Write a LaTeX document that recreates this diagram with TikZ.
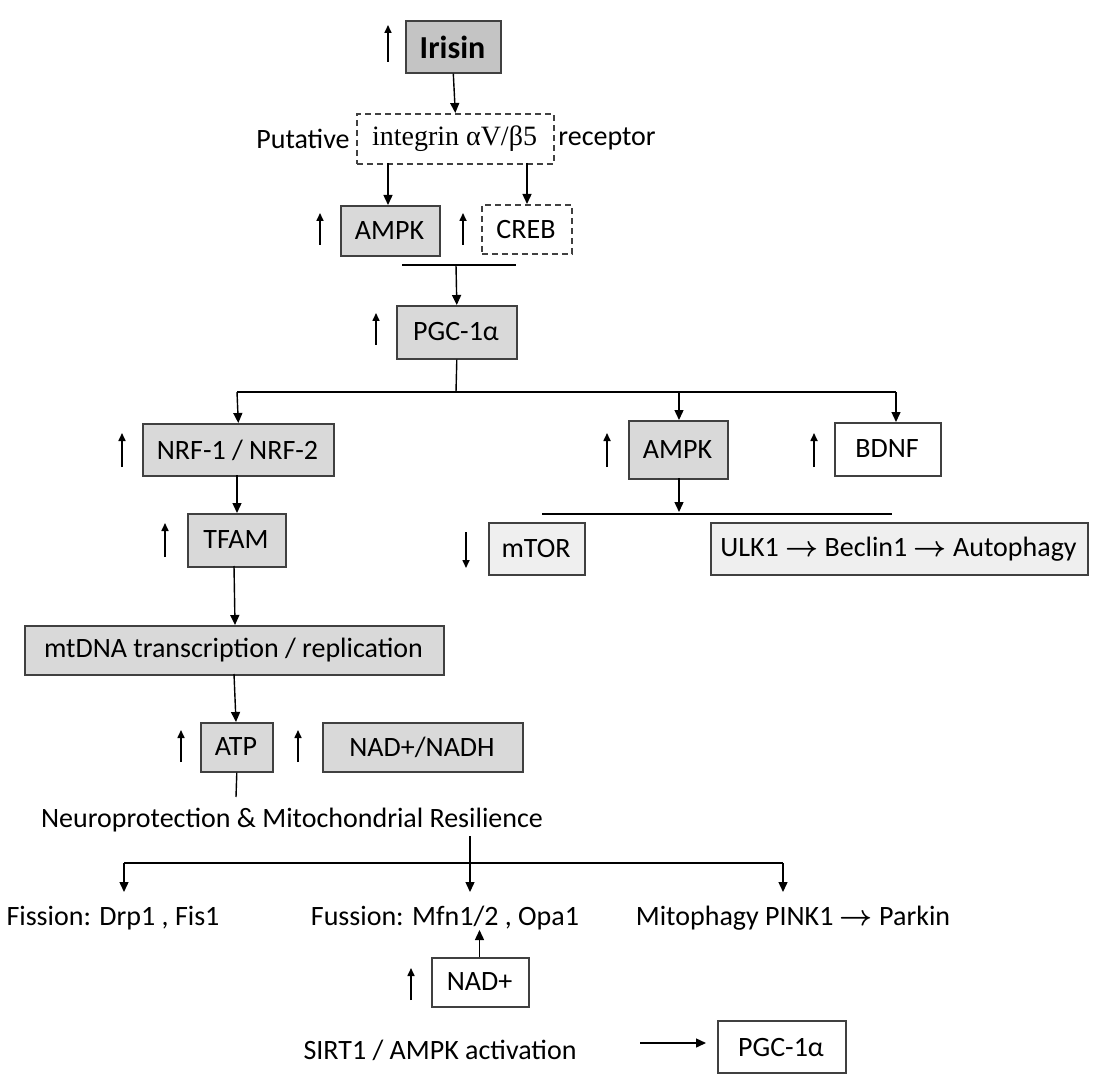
\documentclass[tikz,border=0pt]{standalone}
\usepackage{amsmath}
\usepackage{fontspec}
\setmainfont{Carlito}
\newfontfamily\serifx{Liberation Serif}
\usetikzlibrary{arrows.meta}
\definecolor{bd}{HTML}{404040}
\definecolor{g1}{HTML}{C4C4C4}
\definecolor{g2}{HTML}{D9D9D9}
\definecolor{g3}{HTML}{EFEFEF}
\begin{document}
\begin{tikzpicture}[x=0.5pt,y=-0.5pt,
  every node/.style={font=\fontsize{14}{16}\selectfont, inner sep=0pt},
  box/.style={draw=bd, line width=0.8pt, anchor=north west},
  dbox/.style={box, dashed, dash pattern=on 3pt off 2pt},
  arr/.style={-{Triangle[length=5pt,width=4.5pt]}, line width=0.7pt},
  ln/.style={line width=0.7pt},
  ind/.style={-{Triangle[length=4pt,width=3.5pt]}, line width=0.8pt}]
\useasboundingbox (0,0) rectangle (1107,1080);
\newcommand{\bx}[6]{\node[#1, minimum width=#4*0.5pt-#2*0.5pt, minimum height=#5*0.5pt-#3*0.5pt] (#6) at (#2,#3) {};}
\newcommand{\rar}{\(\boldsymbol{\rightarrow}\)}
\bx{box,fill=g1}{405}{20}{500}{72}{iris}
\node at (452.5,47) {\fontsize{16}{18}\selectfont\bfseries Irisin};
\bx{dbox}{356}{113}{553}{163}{integ}
\node[font=\serifx\fontsize{14}{16}\selectfont] at (454.5,139) {integrin αV/β5};
\node[anchor=east] (put) at (350,139) {Putative};
\node[anchor=west] (rec) at (558,139) {receptor};
\bx{box,fill=g2}{340}{205}{439}{255}{ampk}
\node at (389.5,231) {AMPK};
\bx{dbox}{481}{204}{571}{253}{creb}
\node at (526,230) {CREB};
\bx{box,fill=g2}{396}{305}{516}{358}{pgc}
\node at (456,332) {PGC-1α};
\bx{box,fill=g2}{142}{423}{333}{475}{nrf}
\node at (237.5,450) {NRF-1 / NRF-2};
\bx{box,fill=g2}{628}{420}{727}{478}{ampkb}
\node at (677.5,450) {AMPK};
\bx{box,fill=white}{834}{422}{940}{475}{bdnf}
\node at (887,449) {BDNF};
\bx{box,fill=g3}{488}{522}{584}{574}{mtor}
\node at (536,549) {mTOR};
\bx{box,fill=g3}{710}{522}{1087}{574}{ulk}
\node at (898.5,549) {ULK1 \rar{} Beclin1 \rar{} Autophagy};
\bx{box,fill=g2}{187}{513}{285}{566}{tfam}
\node at (236,540) {TFAM};
\bx{box,fill=g2}{24}{625}{443}{674}{mtdna}
\node at (233.5,650) {mtDNA transcription / replication};
\bx{box,fill=g2}{200}{722}{272}{771}{atp}
\node at (236,747) {ATP};
\bx{box,fill=g2}{322}{722}{522}{771}{nad}
\node at (422,747) {NAD+/NADH};
\node (neuro) at (292,820) {Neuroprotection \& Mitochondrial Resilience};
\node (fis) at (113,918) {Fission: Drp1 , Fis1};
\node (fus) at (445,918) {Fussion: Mfn1/2 , Opa1};
\node (mito) at (793,918) {Mitophagy PINK1 \rar{} Parkin};
\bx{box,fill=white}{431}{957}{528}{1006}{nadp}
\node at (479.5,982) {NAD+};
\node (sirt) at (440,1050) {SIRT1 / AMPK activation};
\bx{box,fill=white}{717}{1020}{845}{1072}{pgcb}
\node at (781,1047) {PGC-1α};
\coordinate (b1l) at (402,265); \coordinate (b1r) at (516,265);
\coordinate (h1l) at (237,392); \coordinate (h1r) at (896,392); \coordinate (h1m) at (456,392);
\coordinate (b2l) at (542,514); \coordinate (b2r) at (892,514);
\coordinate (h3l) at (124,863); \coordinate (h3r) at (783,863); \coordinate (h3m) at (470,863);
\coordinate (atpe) at (236,797);
\draw[arr] (iris.south) -- (integ.north);
\draw[arr] (388,163) -- (388,205);
\draw[arr] (527,163) -- (527,204);
\draw[ln] (b1l) -- (b1r);
\draw[arr] (456,265) -- (pgc.north);
\draw[ln] (pgc.south) -- (h1m);
\draw[ln] (h1l) -- (h1r);
\draw[arr] (h1l) -- (nrf.north);
\draw[arr] (679,392) -- (679,420);
\draw[arr] (h1r) -- (896,422);
\draw[arr] (679,478) -- (679,512);
\draw[ln] (b2l) -- (b2r);
\draw[arr] (237,475) -- (237,513);
\draw[arr] (234,566) -- (235,625);
\draw[arr] (234,674) -- (236,722);
\draw[ln] (atp.south) -- (atpe);
\draw[ln] (470,836) -- (h3m);
\draw[ln] (h3l) -- (h3r);
\draw[arr] (h3l) -- (124,892);
\draw[arr] (h3m) -- (470,892);
\draw[arr] (h3r) -- (783,892);
\draw[arr] (479.5,957) -- (479.5,930);
\draw[arr] (640,1043) -- (706,1043);
\foreach \x/\a/\b in {388/62/25, 320/245/213, 463/245/213, 376/345/313, 122/467/433, 607/467/433, 814/467/433, 165/557/523, 181/762/730, 298/762/730, 411/1000/968}
  \draw[ind] (\x,\a) -- (\x,\b);
\draw[ind] (466,532) -- (466,568);
\end{tikzpicture}
\end{document}
